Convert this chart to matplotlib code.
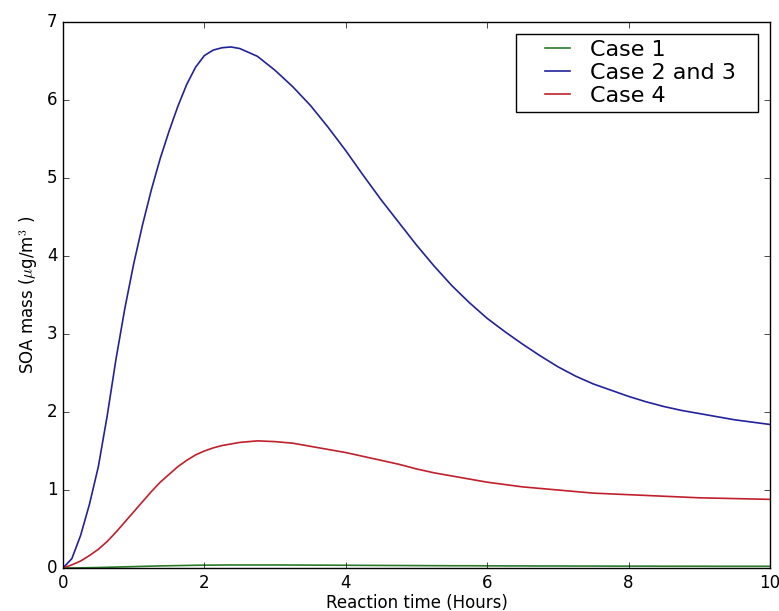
import numpy as np
import matplotlib
matplotlib.use('Agg')
import matplotlib.pyplot as plt
from matplotlib.patches import Rectangle

plt.style.use('classic')

# Reaction time (hours)
t = [0.0, 0.125, 0.25, 0.375, 0.5, 0.625, 0.75, 0.875, 1.0, 1.125, 1.25, 1.375, 1.5,
     1.625, 1.75, 1.875, 2.0, 2.125, 2.25, 2.375, 2.5, 2.75, 3.0,
     3.25, 3.5, 3.75, 4.0, 4.25, 4.5, 4.75, 5.0, 5.25, 5.5, 5.75, 6.0, 6.25, 6.5,
     6.75, 7.0, 7.25, 7.5, 7.75, 8.0, 8.25, 8.5, 8.75, 9.0, 9.25, 9.5, 9.75, 10.0]

# SOA mass (ug/m3) for each case
case1 = [0.0, 0.001, 0.002, 0.004, 0.006, 0.009, 0.012, 0.015, 0.018, 0.021, 0.024,
         0.027, 0.029, 0.031, 0.033, 0.035, 0.036, 0.037, 0.038, 0.039, 0.039, 0.039,
         0.039, 0.038, 0.037, 0.036, 0.035, 0.034, 0.033, 0.032, 0.031, 0.030, 0.029,
         0.029, 0.028, 0.027, 0.027, 0.026, 0.026, 0.025, 0.025, 0.024, 0.024, 0.024,
         0.023, 0.023, 0.023, 0.022, 0.022, 0.022, 0.022]
case23 = [0.0, 0.12, 0.42, 0.82, 1.3, 1.95, 2.68, 3.33, 3.9, 4.4, 4.85, 5.25, 5.6,
          5.92, 6.2, 6.42, 6.57, 6.64, 6.67, 6.68, 6.66, 6.56, 6.38, 6.17, 5.93, 5.65,
          5.35, 5.03, 4.72, 4.43, 4.14, 3.87, 3.62, 3.4, 3.2, 3.03, 2.87, 2.72, 2.58,
          2.46, 2.36, 2.28, 2.2, 2.13, 2.07, 2.02, 1.98, 1.94, 1.9, 1.87, 1.84]
case4 = [0.0, 0.04, 0.09, 0.16, 0.24, 0.34, 0.46, 0.59, 0.72, 0.85, 0.98, 1.1, 1.2,
         1.3, 1.38, 1.45, 1.5, 1.54, 1.57, 1.59, 1.61, 1.63, 1.62, 1.6, 1.56, 1.52,
         1.48, 1.43, 1.38, 1.33, 1.27, 1.22, 1.18, 1.14, 1.1, 1.07, 1.04, 1.02, 1.0,
         0.98, 0.96, 0.95, 0.94, 0.93, 0.92, 0.91, 0.9, 0.895, 0.89, 0.885, 0.88]

labels = ['Case 1', 'Case 2 and 3', 'Case 4']
colors = ['#2a7a2a', '#22229a', '#c0202c']

fig = plt.figure(figsize=(7.79, 6.11), dpi=100)
ax = fig.add_axes([63 / 779, 1 - 568 / 611, 707 / 779, 546 / 611])

for y, lab, c in zip([case1, case23, case4], labels, colors):
    ax.plot(t, y, color=c, label=lab, lw=1.2)

ax.set_xlim(0, 10)
ax.set_ylim(0, 7)
ax.set_xlabel('Reaction time (Hours)', labelpad=2)
ax.set_ylabel(r'SOA mass ($\mu$g/m$^3$ )')

# legend without its own frame; a wider box is drawn round it below
leg = ax.legend(loc='upper right', bbox_to_anchor=(0.959, 0.978), borderaxespad=0,
                fontsize=16, labelspacing=0.15, borderpad=0.25, handlelength=1.7,
                handletextpad=0.6, frameon=False)
fig.canvas.draw()
bb = leg.get_window_extent().transformed(fig.transFigure.inverted())
padx = 17 / 779
fig.add_artist(Rectangle((bb.x0 - padx, bb.y0), bb.width + 2 * padx, bb.height,
                         transform=fig.transFigure, fill=False, ec='k', lw=1.0))

fig.savefig('out.png', dpi=100, facecolor='white')
